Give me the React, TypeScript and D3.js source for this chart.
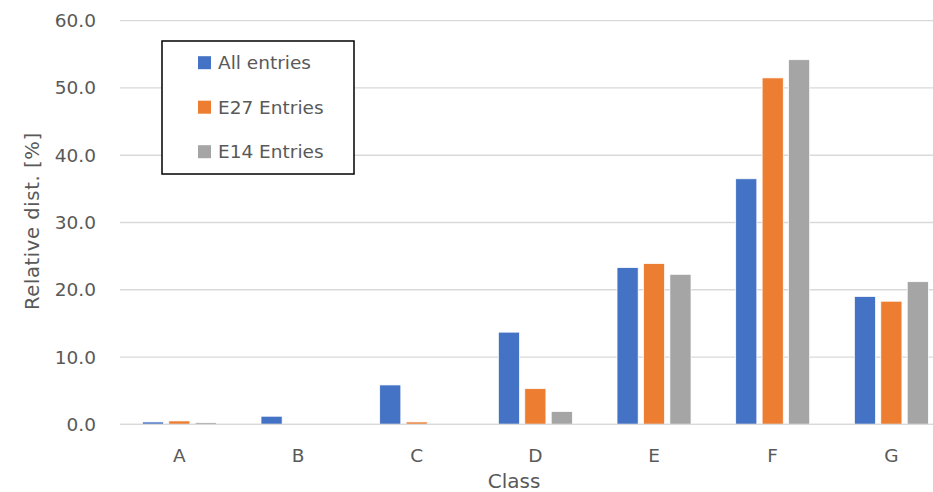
import React from "react";
import * as d3 from "d3";

const categories = ["A", "B", "C", "D", "E", "F", "G"];
const seriesNames = ["All entries", "E27 Entries", "E14 Entries"];
const allEntries = [0.35, 1.2, 5.85, 13.7, 23.3, 36.5, 19.0];
const e27Entries = [0.5, 0.0, 0.35, 5.3, 23.9, 51.5, 18.3];
const e14Entries = [0.25, 0.0, 0.0, 1.9, 22.3, 54.2, 21.2];
const yTicks = [0, 10, 20, 30, 40, 50, 60];
const colors = ["#4472C4", "#ED7D31", "#A5A5A5"];

const W = 933;
const H = 492;
const FONT = "'DejaVu Sans', sans-serif";
const TXT = "#595959";

export default function App() {
  const seriesValues = [allEntries, e27Entries, e14Entries];
  const y = d3.scaleLinear().domain([0, 60]).range([424.3, 20.7]);
  const x0 = d3.scaleBand<string>().domain(categories).range([120, 950.7]).padding(0);
  const groupW = 74;
  const x1 = d3
    .scaleBand<string>()
    .domain(seriesNames)
    .range([0, groupW])
    .paddingInner(0.2);
  const off = (x0.bandwidth() - groupW) / 2;

  return (
    <div style={{ position: "fixed", left: 0, top: 0 }}>
      <svg width={W} height={H} style={{ display: "block", background: "#fff" }}>
        {yTicks.map((t) => (
          <g key={t}>
            <line x1={120} x2={933} y1={y(t)} y2={y(t)} stroke="#D9D9D9" strokeWidth={1.3} />
            <text
              x={96}
              y={y(t)}
              dy="0.35em"
              textAnchor="end"
              fontFamily={FONT}
              fontSize={18.5}
              fill={TXT}
            >
              {t.toFixed(1)}
            </text>
          </g>
        ))}
        {categories.map((c, i) => (
          <g key={c}>
            {seriesNames.map((s, j) => {
              const v = seriesValues[j][i];
              const bx = (x0(c) as number) + off + (x1(s) as number);
              const top = y(v);
              const h = y(0) - top;
              if (h <= 0.01) return null;
              return (
                <rect
                  key={s}
                  x={bx}
                  y={top}
                  width={x1.bandwidth()}
                  height={h}
                  fill={colors[j]}
                  stroke="#fff"
                  strokeWidth={0.75}
                />
              );
            })}
            <text
              x={(x0(c) as number) + x0.bandwidth() / 2}
              y={456}
              dy="0.35em"
              textAnchor="middle"
              fontFamily={FONT}
              fontSize={18.5}
              fill={TXT}
            >
              {c}
            </text>
          </g>
        ))}
        <line x1={120} x2={933} y1={y(0)} y2={y(0)} stroke="#D9D9D9" strokeWidth={1.3} />
        <text
          x={514}
          y={481}
          dy="0.35em"
          textAnchor="middle"
          fontFamily={FONT}
          fontSize={20}
          fill={TXT}
        >
          Class
        </text>
        <text
          transform={`translate(32,${221.5}) rotate(-90)`}
          textAnchor="middle"
          dy="0.35em"
          fontFamily={FONT}
          fontSize={19.5}
          textLength={177}
          lengthAdjust="spacing"
          fill={TXT}
        >
          Relative dist. [%]
        </text>
        <rect x={162} y={41} width={192} height={133} fill="#fff" stroke="#000" strokeWidth={1.5} />
        {seriesNames.map((s, j) => {
          const cy = 62.7 + j * 44.5;
          return (
            <g key={s}>
              <rect x={198} y={cy - 6.5} width={13} height={13} fill={colors[j]} />
              <text x={218} y={cy} dy="0.35em" fontFamily={FONT} fontSize={18.5} fill={TXT}>
                {s}
              </text>
            </g>
          );
        })}
      </svg>
    </div>
  );
}
